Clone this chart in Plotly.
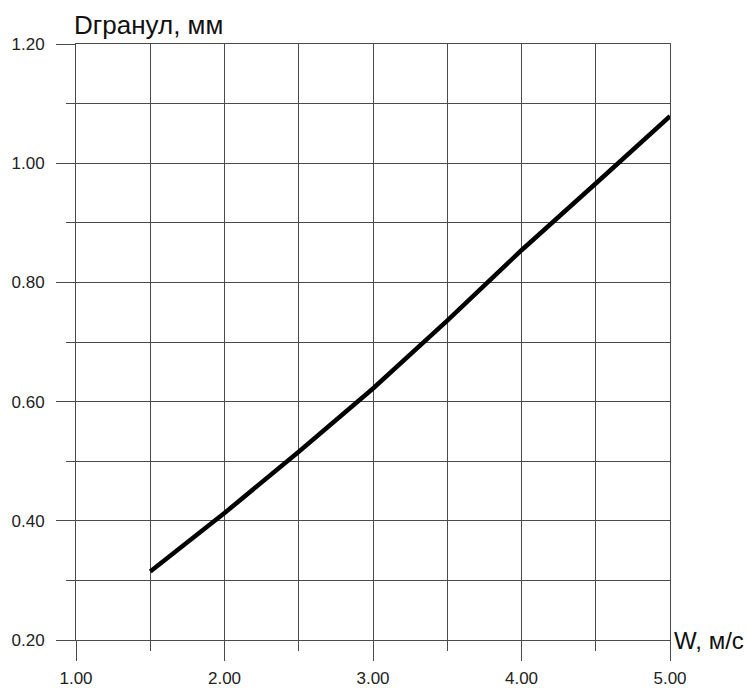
import plotly.graph_objects as go

# Data
w_values = [1.5, 2.0, 2.5, 3.0, 3.5, 4.0, 4.5, 5.0]
d_values = [0.315, 0.413, 0.516, 0.622, 0.736, 0.854, 0.966, 1.079]

x_tick_vals = [1.0, 2.0, 3.0, 4.0, 5.0]
x_tick_text = ["1.00", "2.00", "3.00", "4.00", "5.00"]
y_tick_vals = [0.2, 0.4, 0.6, 0.8, 1.0, 1.2]
y_tick_text = ["0.20", "0.40", "0.60", "0.80", "1.00", "1.20"]

x_title = "W, м/с"
y_title = "Dгранул, мм"

grid_color = "#4a4a4a"
font_family = "Liberation Sans, Arial, sans-serif"

fig = go.Figure()
fig.add_trace(go.Scatter(
    x=w_values, y=d_values, mode="lines",
    line=dict(color="#000000", width=4.5),
    showlegend=False, hoverinfo="skip",
))

# page body has an 8px default margin
W, H = 748, 680
L, R, T, B = 68, 86, 36, 48
pw = W - L - R
ph = H - T - B

fig.update_layout(
    width=W, height=H,
    margin=dict(l=L, r=R, t=T, b=B, pad=0, autoexpand=False),
    paper_bgcolor="white", plot_bgcolor="white",
    font=dict(family=font_family, color="#222222"),
    xaxis=dict(
        range=[1.0, 5.0], automargin=False,
        tickvals=x_tick_vals, ticktext=x_tick_text,
        ticks="outside", ticklen=20, tickwidth=1, tickcolor=grid_color,
        showgrid=True, gridcolor=grid_color, gridwidth=1,
        minor=dict(dtick=0.5, tick0=1.0, ticks="outside", ticklen=10,
                   tickcolor=grid_color, tickwidth=1,
                   showgrid=True, gridcolor=grid_color, gridwidth=1),
        showline=True, linecolor=grid_color, linewidth=1, mirror=True,
        zeroline=False,
        tickfont=dict(size=17, family=font_family, color="#222222"),
        ticklabelstandoff=3,
    ),
    yaxis=dict(
        range=[0.2, 1.2], automargin=False,
        tickvals=y_tick_vals, ticktext=y_tick_text,
        ticks="outside", ticklen=19, tickwidth=1, tickcolor=grid_color,
        showgrid=True, gridcolor=grid_color, gridwidth=1,
        minor=dict(dtick=0.1, tick0=0.2, ticks="outside", ticklen=9,
                   tickcolor=grid_color, tickwidth=1,
                   showgrid=True, gridcolor=grid_color, gridwidth=1),
        showline=True, linecolor=grid_color, linewidth=1, mirror=True,
        zeroline=False,
        tickfont=dict(size=17, family=font_family, color="#222222"),
        ticklabelstandoff=8,
    ),
    annotations=[
        dict(text=y_title, xref="paper", yref="paper",
             x=-4 / pw, y=1 + 19 / ph, xanchor="left", yanchor="middle",
             showarrow=False, font=dict(size=26, family=font_family, color="#111111")),
        dict(text=x_title, xref="paper", yref="paper",
             x=1 + 2 / pw, y=0, xanchor="left", yanchor="middle",
             showarrow=False, font=dict(size=24, family=font_family, color="#111111")),
    ],
)

fig.write_html("out.html")
